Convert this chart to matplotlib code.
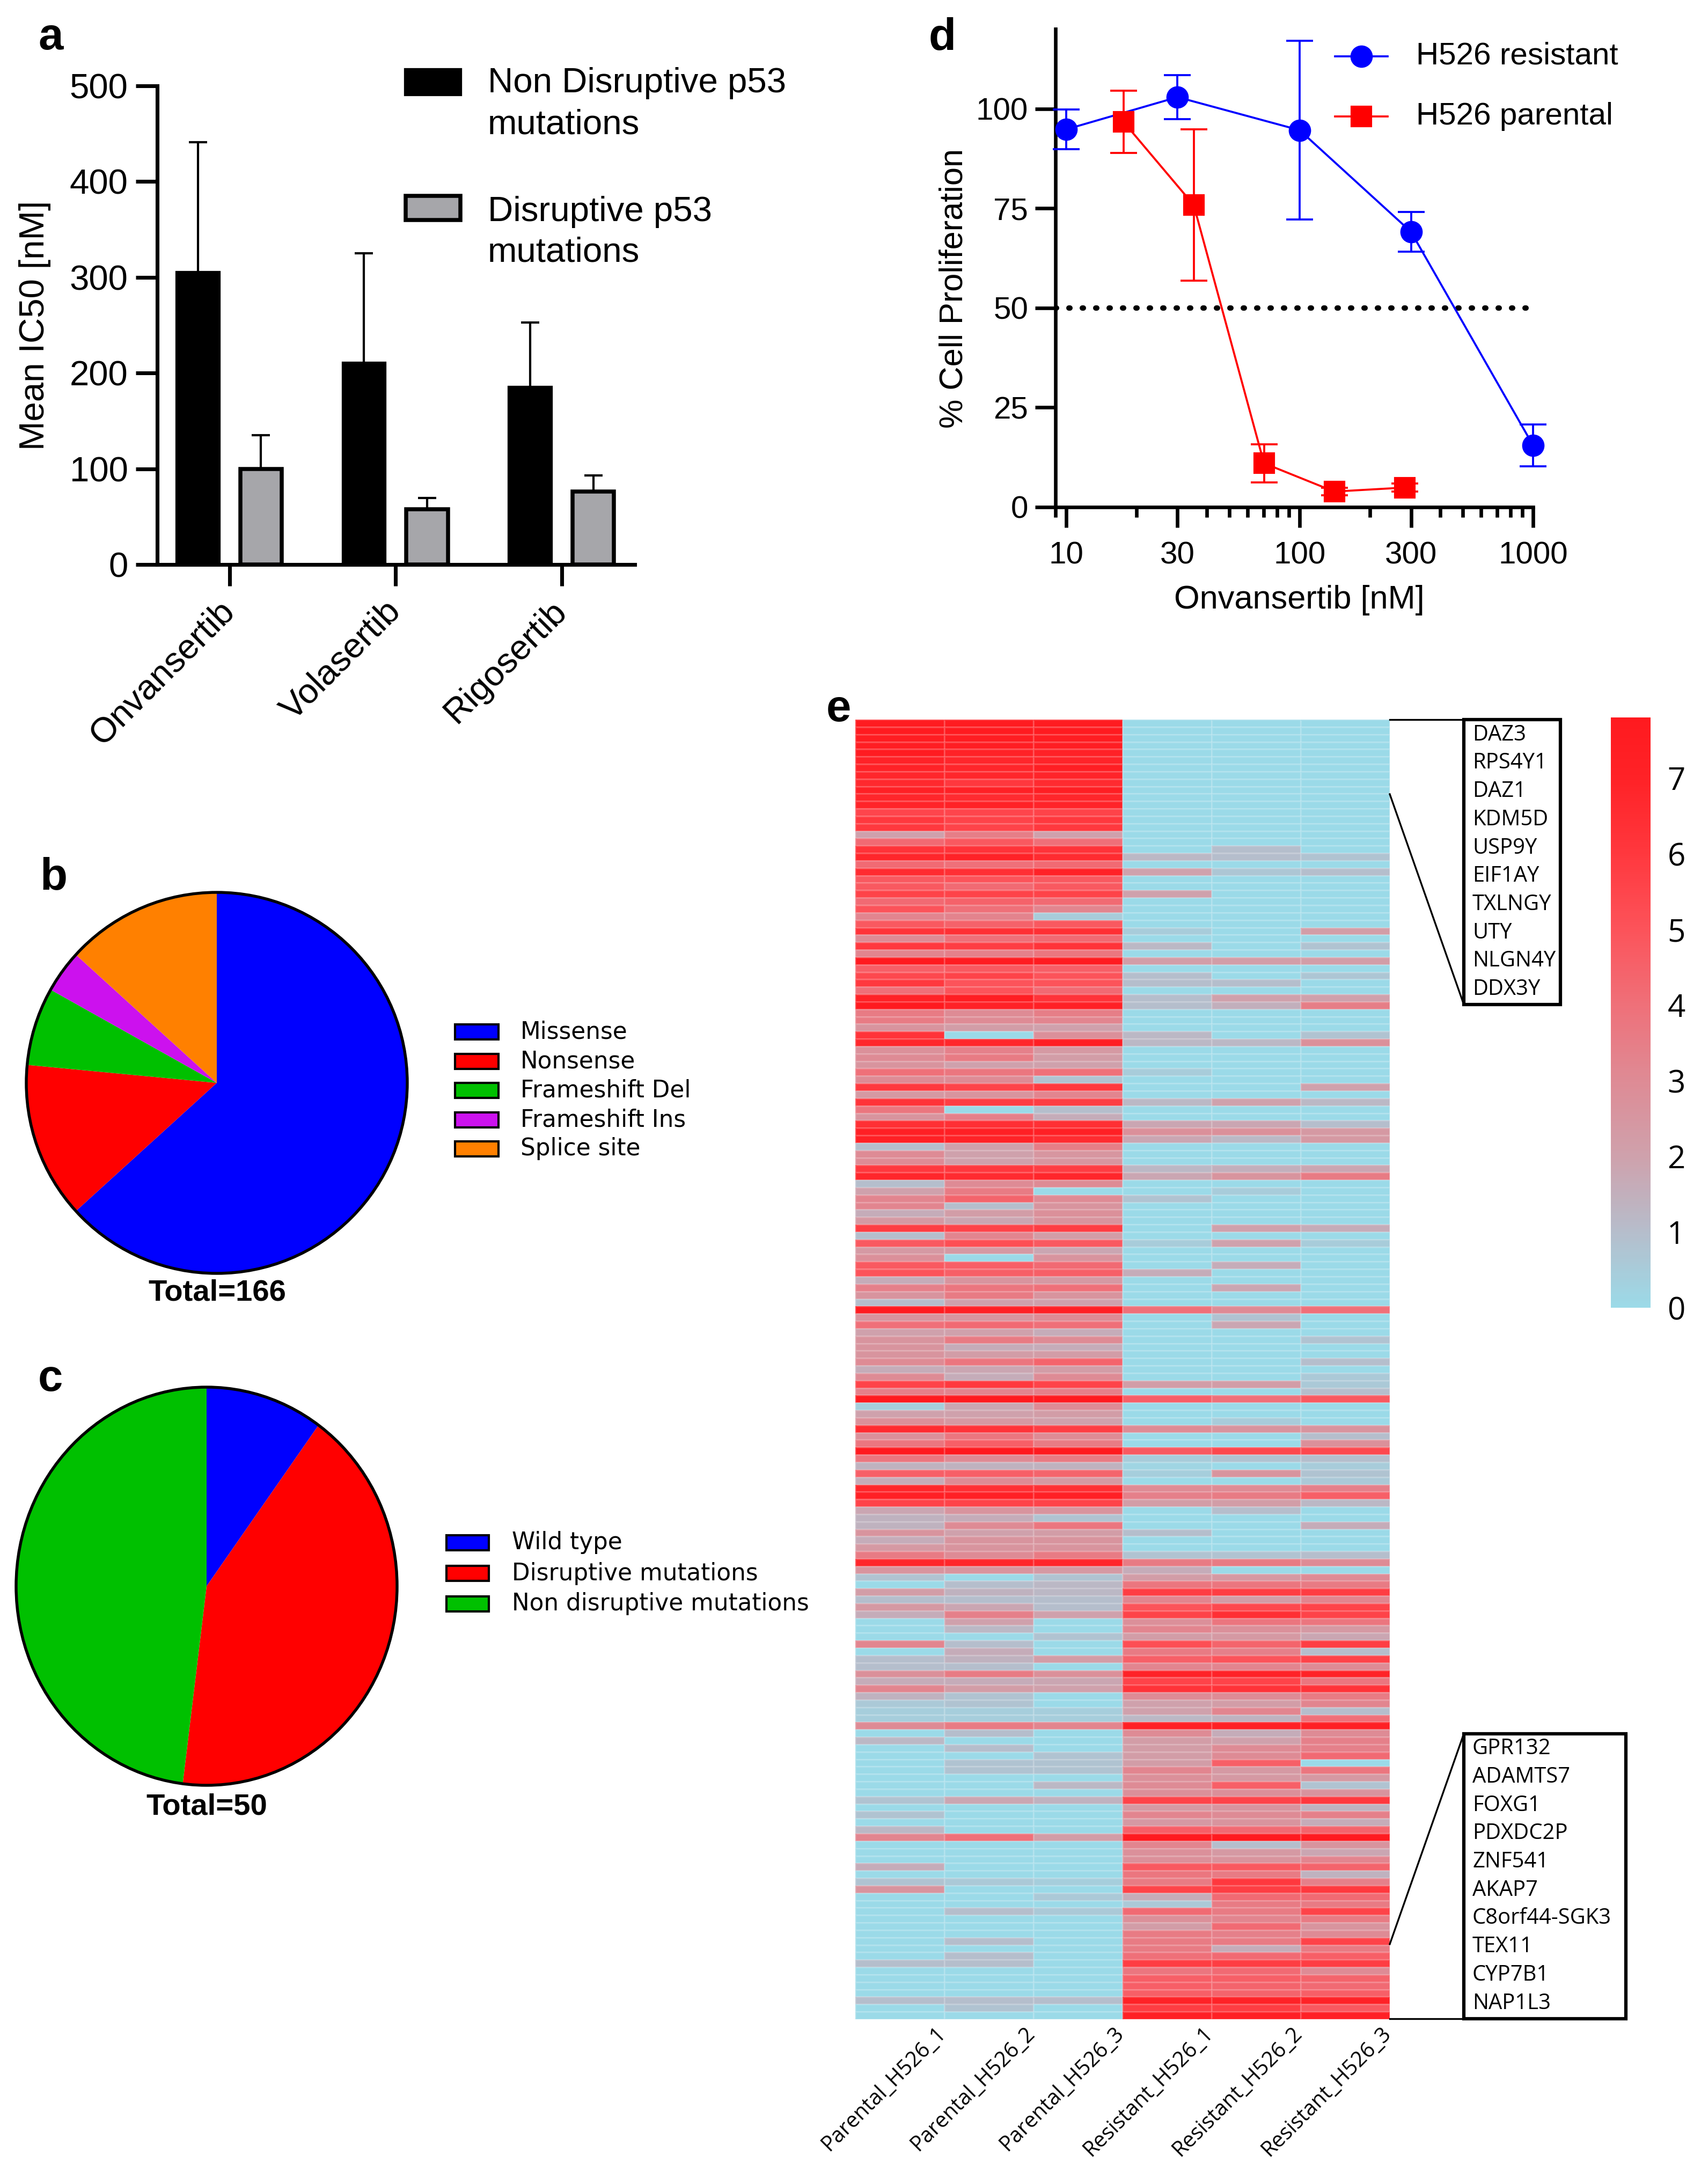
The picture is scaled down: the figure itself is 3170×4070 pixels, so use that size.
import numpy as np
import matplotlib
matplotlib.use("Agg")
import matplotlib.pyplot as plt
from matplotlib.colors import LinearSegmentedColormap
from matplotlib.patches import Rectangle, Circle
from matplotlib.lines import Line2D
from matplotlib.ticker import NullFormatter

plt.rcParams['font.family'] = ['Liberation Sans', 'DejaVu Sans']

# ---- panel a: mean IC50 by drug
drugs = ["Onvansertib", "Volasertib", "Rigosertib"]
ic50_nondisruptive = [305, 210, 185]
sd_nondisruptive = [136, 115, 68]
ic50_disruptive = [100, 58, 76]
sd_disruptive = [35, 11.5, 17]

# ---- panel b: TP53 mutation types
mutation_types = ["Missense", "Nonsense", "Frameshift Del", "Frameshift Ins", "Splice site"]
mutation_counts = [105, 22, 11, 6, 22]
mutation_colors = ["#0000FF", "#FF0000", "#00C000", "#CC11EE", "#FF8000"]

# ---- panel c: p53 status of cell lines
status_types = ["Wild type", "Disruptive mutations", "Non disruptive mutations"]
status_counts = [5, 21, 24]
status_colors = ["#0000FF", "#FF0000", "#00C000"]

# ---- panel d: dose response
conc_resistant = [10, 30, 100, 300, 1000]
prolif_resistant = [94.8, 102.9, 94.6, 69.1, 15.5]
err_resistant = [5.0, 5.5, 22.4, 5.0, 5.2]
conc_parental = [17.6, 35.2, 70.4, 140.8, 281.6]
prolif_parental = [96.7, 75.8, 11.0, 3.9, 4.9]
err_parental = [7.8, 19.0, 4.8, 1.0, 1.0]

# ---- panel e: heatmap (rows top to bottom)
samples = ["Parental_H526_1", "Parental_H526_2", "Parental_H526_3",
           "Resistant_H526_1", "Resistant_H526_2", "Resistant_H526_3"]
parental_1 = [7.7, 7.7, 7.5, 7.4, 7.6, 7.0, 7.0, 6.8, 6.7, 7.2,
              6.8, 6.9, 5.5, 6.0, 6.0, 2.0, 4.2, 6.2, 6.8, 4.2,
              6.6, 4.8, 4.8, 5.6, 4.2, 5.0, 3.2, 4.8, 6.2, 3.0,
              6.0, 3.2, 7.8, 4.6, 5.4, 6.0, 4.0, 7.0, 7.8, 3.6,
              3.6, 2.6, 6.2, 6.8, 2.8, 3.0, 2.6, 4.0, 3.0, 6.0,
              2.4, 6.2, 3.8, 2.6, 6.4, 7.2, 7.2, 1.0, 3.0, 3.0,
              6.0, 6.8, 1.0, 2.0, 3.2, 3.2, 1.6, 2.4, 5.8, 1.0,
              4.8, 2.4, 2.8, 4.8, 5.0, 1.6, 3.4, 2.6, 1.0, 7.6,
              2.6, 4.0, 2.0, 2.6, 2.6, 2.6, 3.0, 1.6, 3.0, 5.6,
              3.4, 7.8, 0.4, 2.0, 2.8, 6.6, 2.8, 3.8, 7.8, 3.8,
              1.4, 4.6, 1.6, 6.8, 7.2, 5.6, 1.8, 1.4, 1.4, 2.6,
              1.6, 2.4, 3.6, 6.8, 2.6, 0.8, 0.0, 2.2, 1.0, 2.4,
              1.6, 0.0, 0.0, 0.0, 3.2, 0.0, 1.0, 1.0, 2.8, 1.6,
              3.2, 1.4, 0.6, 0.4, 0.4, 3.0, 0.0, 1.2, 0.0, 0.0,
              0.0, 0.0, 0.0, 0.0, 0.0, 0.8, 0.0, 0.8, 0.0, 1.2,
              3.2, 0.0, 0.0, 0.0, 1.6, 0.0, 0.8, 2.6, 0.0, 0.0,
              0.0, 0.0, 0.0, 0.0, 0.0, 0.0, 0.0, 1.0, 0.0, 0.0,
              0.0, 0.0, 1.0, 0.0, 0.0]
parental_2 = [7.7, 7.7, 7.5, 7.4, 7.0, 6.8, 6.8, 6.8, 6.0, 7.2,
              6.6, 7.0, 5.5, 5.6, 5.6, 3.5, 4.8, 6.2, 7.0, 4.0,
              6.4, 5.0, 4.2, 5.6, 4.5, 4.0, 3.3, 4.5, 6.4, 4.0,
              5.8, 3.4, 7.6, 4.8, 5.6, 5.0, 5.0, 7.5, 7.0, 3.0,
              3.0, 2.2, 0.0, 6.8, 3.4, 3.6, 2.0, 3.8, 3.0, 5.6,
              2.6, 5.8, 0.0, 3.4, 6.4, 7.2, 7.0, 2.0, 2.0, 2.0,
              6.0, 6.6, 3.0, 3.6, 4.4, 1.0, 2.2, 1.8, 5.6, 3.2,
              5.2, 2.4, 0.0, 4.6, 4.6, 2.6, 3.8, 3.6, 2.0, 7.2,
              2.6, 4.2, 2.0, 3.6, 1.6, 2.2, 3.8, 1.8, 1.6, 6.0,
              3.2, 7.8, 1.8, 2.0, 2.4, 6.2, 3.8, 4.6, 7.8, 3.0,
              1.4, 4.6, 3.0, 6.4, 7.2, 5.6, 2.6, 1.6, 3.0, 2.0,
              2.6, 2.6, 3.0, 6.8, 2.6, 0.0, 1.0, 1.4, 1.0, 1.8,
              3.4, 2.0, 1.2, 0.0, 1.0, 1.6, 1.4, 1.0, 3.6, 1.6,
              2.2, 0.8, 0.8, 0.4, 0.4, 3.6, 1.0, 0.0, 1.0, 0.0,
              0.8, 0.8, 0.0, 0.0, 0.0, 1.8, 0.0, 0.0, 0.0, 0.0,
              4.0, 0.0, 0.0, 0.0, 0.0, 0.0, 0.6, 0.0, 0.0, 0.0,
              1.0, 0.0, 0.0, 0.0, 1.0, 0.0, 1.0, 1.0, 0.0, 0.0,
              0.0, 0.0, 1.0, 0.8, 0.0]
parental_3 = [7.7, 7.7, 7.5, 7.4, 7.0, 6.9, 7.3, 6.9, 6.6, 7.4,
              6.8, 6.9, 5.6, 6.0, 6.0, 2.0, 4.0, 6.2, 6.6, 4.2,
              7.0, 4.8, 4.8, 5.6, 4.2, 3.2, 0.5, 4.8, 6.4, 4.2,
              6.2, 3.8, 7.7, 4.6, 5.0, 5.0, 4.2, 6.2, 7.2, 3.5,
              3.2, 2.0, 2.8, 7.4, 2.4, 2.2, 2.0, 4.0, 0.8, 6.0,
              3.2, 5.8, 1.0, 1.6, 6.4, 7.2, 6.6, 3.5, 2.5, 2.5,
              5.8, 6.8, 3.0, 0.0, 3.0, 2.6, 2.8, 2.6, 5.8, 2.2,
              4.8, 1.8, 2.6, 4.2, 4.6, 2.4, 4.0, 2.6, 2.0, 7.2,
              3.0, 4.0, 1.6, 3.0, 1.6, 2.2, 4.4, 2.2, 3.0, 5.6,
              3.4, 7.8, 3.0, 2.2, 2.0, 5.8, 3.0, 3.6, 7.8, 3.6,
              1.4, 4.4, 2.4, 6.4, 7.2, 5.6, 2.6, 0.8, 3.8, 2.2,
              2.6, 2.6, 3.6, 6.8, 2.4, 0.8, 1.2, 1.2, 1.0, 1.0,
              2.0, 0.0, 0.0, 0.8, 0.0, 0.0, 2.2, 0.0, 2.8, 1.8,
              2.0, 0.0, 0.0, 0.4, 0.4, 3.2, 0.0, 0.0, 0.0, 0.8,
              0.8, 0.8, 0.0, 1.2, 0.0, 1.4, 0.0, 0.0, 0.0, 0.0,
              2.2, 0.0, 0.0, 0.0, 0.0, 0.0, 0.4, 0.0, 0.6, 0.0,
              0.6, 0.0, 0.0, 0.0, 0.0, 0.0, 0.0, 0.0, 0.0, 0.0,
              0.0, 0.0, 1.0, 0.0, 0.0]
resistant_1 = [0.0, 0.0, 0.0, 0.0, 0.0, 0.0, 0.0, 0.0, 0.0, 0.0,
               0.0, 0.0, 0.0, 0.0, 0.0, 0.0, 0.0, 0.0, 1.2, 0.0,
               2.0, 0.0, 0.0, 2.0, 0.0, 0.0, 0.0, 0.0, 0.5, 0.0,
               1.2, 0.0, 2.2, 0.0, 1.0, 1.0, 0.0, 1.0, 1.0, 0.0,
               0.0, 0.0, 1.2, 1.2, 0.0, 0.0, 0.0, 0.5, 0.0, 0.0,
               0.0, 1.2, 0.0, 0.0, 1.8, 2.8, 1.8, 0.0, 0.0, 0.0,
               1.2, 1.8, 0.0, 0.0, 0.8, 0.0, 0.0, 0.0, 0.0, 0.0,
               0.5, 0.0, 0.0, 0.0, 1.6, 0.0, 0.0, 0.0, 0.0, 4.0,
               0.0, 0.0, 0.0, 0.0, 0.0, 0.0, 0.0, 0.0, 0.0, 2.2,
               0.0, 4.6, 0.0, 0.0, 0.0, 3.0, 0.0, 0.0, 4.8, 0.5,
               0.2, 0.4, 0.0, 3.0, 3.4, 2.2, 0.0, 0.0, 0.0, 1.0,
               0.0, 0.0, 0.8, 3.6, 1.6, 2.2, 3.8, 5.8, 3.2, 5.0,
               5.6, 2.8, 3.2, 2.2, 5.2, 3.6, 4.6, 3.2, 7.0, 5.6,
               6.2, 3.0, 2.0, 2.0, 1.2, 7.2, 3.0, 2.2, 2.2, 2.2,
               2.2, 3.2, 2.8, 3.0, 2.8, 5.6, 2.4, 3.2, 2.4, 4.6,
               7.8, 3.2, 2.8, 2.8, 4.8, 3.8, 3.6, 5.6, 1.6, 0.6,
               4.2, 2.8, 2.2, 3.6, 3.6, 3.6, 4.0, 5.8, 3.8, 4.6,
               4.6, 4.6, 7.0, 5.8, 7.2]
resistant_2 = [0.0, 0.0, 0.0, 0.0, 0.0, 0.0, 0.0, 0.0, 0.0, 0.0,
               0.0, 0.0, 0.0, 0.0, 0.0, 0.0, 0.0, 1.0, 1.0, 0.0,
               0.7, 0.0, 0.0, 0.0, 0.0, 0.0, 0.0, 0.0, 0.0, 0.0,
               0.0, 0.0, 2.2, 0.0, 0.0, 1.0, 0.0, 2.0, 1.5, 0.0,
               0.0, 0.0, 0.0, 1.2, 0.0, 0.0, 0.0, 0.0, 0.0, 0.0,
               0.0, 2.0, 0.0, 0.0, 1.8, 2.8, 1.2, 0.0, 0.0, 0.0,
               1.5, 2.6, 0.0, 0.5, 0.0, 0.0, 0.0, 0.0, 2.0, 0.0,
               2.0, 0.0, 0.0, 1.6, 0.0, 0.0, 1.8, 0.0, 0.0, 3.0,
               0.8, 1.8, 0.0, 0.0, 0.0, 0.0, 0.0, 0.0, 0.0, 2.2,
               0.0, 4.0, 0.0, 0.0, 0.5, 2.6, 0.0, 0.0, 5.4, 0.8,
               0.0, 2.6, 0.0, 3.0, 3.6, 2.2, 1.0, 0.0, 0.0, 0.0,
               0.0, 0.0, 0.8, 3.6, 0.0, 2.4, 3.8, 5.8, 2.2, 5.4,
               6.4, 3.8, 2.8, 2.4, 4.4, 3.4, 5.0, 3.2, 7.0, 5.6,
               6.2, 3.0, 2.2, 3.2, 1.4, 7.2, 1.6, 2.0, 3.0, 3.0,
               4.6, 2.4, 2.4, 4.6, 2.8, 5.6, 2.6, 3.0, 2.6, 4.2,
               7.8, 1.0, 2.4, 2.6, 4.8, 3.6, 6.0, 5.8, 4.2, 3.6,
               3.6, 3.2, 4.2, 3.4, 3.6, 1.6, 4.2, 5.8, 4.2, 4.6,
               4.4, 4.4, 7.0, 5.8, 7.2]
resistant_3 = [0.0, 0.0, 0.0, 0.0, 0.0, 0.0, 0.0, 0.0, 0.0, 0.0,
               0.0, 0.0, 0.0, 0.0, 0.0, 0.0, 0.0, 0.0, 0.8, 0.0,
               1.0, 0.0, 0.0, 0.0, 0.0, 0.0, 0.0, 0.0, 2.2, 0.0,
               0.8, 0.0, 2.2, 0.0, 0.7, 0.0, 0.0, 2.0, 3.5, 0.0,
               0.0, 0.0, 0.8, 2.8, 0.0, 0.0, 0.0, 0.0, 0.0, 2.0,
               0.0, 1.2, 0.0, 0.0, 1.0, 2.4, 2.4, 0.0, 0.0, 0.0,
               1.8, 3.6, 0.0, 0.0, 0.0, 0.0, 0.0, 0.0, 1.6, 0.0,
               0.5, 0.0, 0.0, 0.0, 0.0, 0.0, 0.0, 0.0, 0.0, 4.0,
               0.0, 0.0, 0.0, 0.8, 0.0, 0.0, 1.0, 0.0, 0.6, 0.6,
               1.0, 4.8, 0.0, 0.0, 0.0, 2.6, 1.0, 2.8, 5.4, 1.0,
               0.5, 0.8, 0.6, 3.4, 4.6, 1.2, 0.0, 0.0, 1.6, 0.0,
               0.0, 0.0, 1.0, 3.0, 0.0, 3.0, 3.6, 5.8, 3.2, 5.6,
               5.6, 3.8, 2.4, 1.8, 5.8, 1.0, 5.6, 3.0, 7.0, 3.8,
               6.2, 3.6, 3.2, 1.0, 4.0, 7.2, 3.0, 3.4, 3.4, 4.2,
               0.0, 3.8, 2.4, 0.8, 2.6, 6.0, 1.4, 3.4, 1.6, 4.4,
               7.8, 2.6, 1.8, 3.2, 4.4, 1.4, 3.4, 6.0, 4.2, 3.6,
               5.6, 3.6, 2.6, 3.0, 5.6, 3.6, 4.6, 5.8, 3.0, 4.4,
               4.2, 4.6, 7.0, 4.8, 7.2]
top_genes = ["DAZ3", "RPS4Y1", "DAZ1", "KDM5D", "USP9Y", "EIF1AY", "TXLNGY", "UTY", "NLGN4Y", "DDX3Y"]
bottom_genes = ["GPR132", "ADAMTS7", "FOXG1", "PDXDC2P", "ZNF541", "AKAP7", "C8orf44-SGK3",
                "TEX11", "CYP7B1", "NAP1L3"]

# colour ramp of the heatmap (value -> colour)
ramp_values = [0, 1, 2, 3, 4, 5, 6, 7, 7.8]
ramp_colors = ["#9BDAE8", "#B6BDCB", "#CFA1AC", "#DE8B95", "#EF7079", "#FC535A",
               "#FF383E", "#FF2227", "#FF1A1F"]

W, H = 3170, 4070
fig = plt.figure(figsize=(W / 300, H / 300), dpi=300)


def box(l, t, r, b):
    # pixel box (left, top, right, bottom) -> figure fraction
    return [l / W, 1 - b / H, (r - l) / W, (b - t) / H]


def fx(x):
    return x / W


def fy(y):
    return 1 - y / H


def fig_rect(l, t, r, b, **kw):
    fig.add_artist(Rectangle((fx(l), fy(b)), (r - l) / W, (b - t) / H,
                             transform=fig.transFigure, **kw))


def fig_line(xs, ys, **kw):
    fig.add_artist(Line2D([fx(x) for x in xs], [fy(y) for y in ys],
                          transform=fig.transFigure, **kw))


# panel letters
for lab, x, y in [("a", 71, 92), ("b", 74, 1657), ("c", 71, 2592), ("d", 1731, 92), ("e", 1540, 1344)]:
    fig.text(fx(x), fy(y), lab, fontsize=20, fontweight='bold', ha='left', va='baseline')

# ================= a
FA = 15.7
axa = fig.add_axes(box(293, 160, 1183, 1052))
xa = np.arange(len(drugs))
axa.errorbar(xa - 0.19, ic50_nondisruptive, yerr=[np.zeros(3), sd_nondisruptive], fmt='none',
             ecolor='black', elinewidth=1.0, capsize=4, capthick=1.0, zorder=1)
axa.errorbar(xa + 0.19, ic50_disruptive, yerr=[np.zeros(3), sd_disruptive], fmt='none',
             ecolor='black', elinewidth=1.0, capsize=4, capthick=1.0, zorder=1)
axa.bar(xa - 0.19, ic50_nondisruptive, 0.25, color='black', edgecolor='black', linewidth=1.5, zorder=2)
axa.bar(xa + 0.19, ic50_disruptive, 0.25, color='#A6A6AA', edgecolor='black', linewidth=1.8, zorder=2)
axa.set_xlim(-0.435, 2.44)
axa.set_ylim(0, 500)
axa.set_yticks(range(0, 501, 100))
axa.set_xticks(xa)
axa.set_xticklabels(drugs, rotation=45, ha='right', va='center', rotation_mode='anchor')
for s in ['top', 'right']:
    axa.spines[s].set_visible(False)
for s in ['left', 'bottom']:
    axa.spines[s].set_linewidth(1.7)
axa.tick_params(axis='both', length=9.6, width=1.7, labelsize=FA)
axa.tick_params(axis='y', pad=3.5)
axa.tick_params(axis='x', pad=9)
axa.set_ylabel("Mean IC50 [nM]", fontsize=FA)
axa.yaxis.set_label_coords(-0.222, 0.5)

fig_rect(756, 130, 858, 176, facecolor='black', edgecolor='black', linewidth=1.5)
fig_rect(756, 365, 858, 410, facecolor='#A6A6AA', edgecolor='black', linewidth=1.8)
fig.text(fx(909), fy(155), "Non Disruptive p53", fontsize=FA, va='center')
fig.text(fx(909), fy(233), "mutations", fontsize=FA, va='center')
fig.text(fx(909), fy(395), "Disruptive p53", fontsize=FA, va='center')
fig.text(fx(909), fy(471), "mutations", fontsize=FA, va='center')

# ================= d
axd = fig.add_axes(box(1967, 54, 2857, 945))
axd.set_xscale('log')
axd.plot([9, 1000], [50, 50], color='black', lw=2.4, linestyle=(0, (0.2, 2.3)),
         dash_capstyle='round', zorder=1)
axd.errorbar(conc_resistant, prolif_resistant, yerr=err_resistant, color='#0000FF', marker='o',
             ms=9, lw=0.9, elinewidth=0.9, capsize=6, capthick=0.9, clip_on=False, zorder=3)
axd.errorbar(conc_parental, prolif_parental, yerr=err_parental, color='#FF0000', marker='s',
             ms=8.5, lw=0.9, elinewidth=0.9, capsize=6, capthick=0.9, clip_on=False, zorder=3)
axd.set_xlim(9, 1000)
axd.set_ylim(0, 120)
axd.set_xticks([10, 30, 100, 300, 1000])
axd.set_xticklabels(["10", "30", "100", "300", "1000"])
axd.set_xticks([9, 20, 40, 50, 60, 70, 80, 90, 200, 400, 500, 600, 700, 800, 900], minor=True)
axd.xaxis.set_minor_formatter(NullFormatter())
axd.set_yticks([0, 25, 50, 75, 100])
for s in ['top', 'right']:
    axd.spines[s].set_visible(False)
for s in ['left', 'bottom']:
    axd.spines[s].set_linewidth(1.6)
axd.tick_params(which='major', length=9.2, width=1.6, labelsize=14)
axd.tick_params(which='minor', length=4.6, width=1.6)
axd.tick_params(axis='x', which='major', pad=6)
axd.tick_params(axis='y', pad=3)
axd.set_xlabel("Onvansertib [nM]", fontsize=14.7)
axd.set_ylabel("% Cell Proliferation", fontsize=14.7)
axd.xaxis.set_label_coords(0.51, -0.163)
axd.yaxis.set_label_coords(-0.180, 0.457)

fig_line([2488, 2586], [105, 105], color='#0000FF', lw=0.9)
fig_line([2537], [105], color='#0000FF', marker='o', ms=9, ls='none')
fig.text(fx(2639), fy(105), "H526 resistant", fontsize=14, va='center')
fig_line([2488, 2586], [217, 217], color='#FF0000', lw=0.9)
fig_line([2537], [217], color='#FF0000', marker='s', ms=8.5, ls='none')
fig.text(fx(2639), fy(217), "H526 parental", fontsize=14, va='center')

# ================= b
axb = fig.add_axes(box(49, 1663, 759, 2373))
axb.pie(mutation_counts, colors=mutation_colors, startangle=90, counterclock=False,
        wedgeprops=dict(linewidth=0))
axb.add_patch(Circle((0, 0), 1, fill=False, edgecolor='black', linewidth=1.3, clip_on=False))
axb.set_xlim(-1, 1)
axb.set_ylim(-1, 1)
axb.set_aspect('auto')
axb.axis('off')
fig.text(fx(405), fy(2409), "Total=166", fontsize=13.5, fontweight='bold', ha='center', va='center')
for i, (name, col) in enumerate(zip(mutation_types, mutation_colors)):
    yc = [1923, 1978, 2032, 2087, 2141][i]
    fig_rect(848, yc - 14, 929, yc + 14, facecolor=col, edgecolor='black', linewidth=1.0)
    fig.text(fx(970), fy(yc), name, fontsize=10.5, va='center', family='DejaVu Sans')

# ================= c
axc = fig.add_axes(box(30, 2585, 740, 3327))
axc.pie(status_counts, colors=status_colors, startangle=90, counterclock=False,
        wedgeprops=dict(linewidth=0))
axc.add_patch(Circle((0, 0), 1, fill=False, edgecolor='black', linewidth=1.3, clip_on=False))
axc.set_xlim(-1, 1)
axc.set_ylim(-1, 1)
axc.set_aspect('auto')
axc.axis('off')
fig.text(fx(385), fy(3367), "Total=50", fontsize=13.5, fontweight='bold', ha='center', va='center')
for i, (name, col) in enumerate(zip(status_types, status_colors)):
    yc = [2875, 2932, 2989][i]
    fig_rect(832, yc - 14, 911, yc + 14, facecolor=col, edgecolor='black', linewidth=1.0)
    fig.text(fx(954), fy(yc), name, fontsize=10.5, va='center', family='DejaVu Sans')

# ================= e
mat = np.column_stack([parental_1, parental_2, parental_3, resistant_1, resistant_2, resistant_3])
nrow = mat.shape[0]
cmap = LinearSegmentedColormap.from_list(
    "expr", list(zip(np.array(ramp_values) / ramp_values[-1], ramp_colors)))
axh = fig.add_axes(box(1594, 1341, 2590, 3763))
mesh = axh.pcolormesh(mat, cmap=cmap, vmin=0, vmax=ramp_values[-1],
                      edgecolors=(1, 1, 1, 0.18), linewidth=0.3)
axh.set_xlim(0, 6)
axh.set_ylim(nrow, 0)
for s in axh.spines.values():
    s.set_visible(False)
axh.set_yticks([])
axh.set_xticks(np.arange(6) + 0.98)
axh.set_xticklabels(samples, rotation=45, ha='right', va='center', rotation_mode='anchor',
                    family='Open Sans', fontsize=9.5)
axh.tick_params(axis='x', length=0, pad=5)

cax = fig.add_axes(box(3002, 1337, 3076, 2437))
cb = fig.colorbar(mesh, cax=cax, ticks=range(8))
cb.outline.set_visible(False)
cax.tick_params(length=0, pad=7.5, labelsize=14)
for t in cax.get_yticklabels():
    t.set_family('Open Sans')

# gene call-out boxes
GF = 9.6
fig_rect(2728, 1341, 2908, 1872, fill=False, edgecolor='black', linewidth=1.5)
fig_line([2590, 2728], [1341, 1341], color='black', lw=0.8)
fig_line([2590, 2728], [1480, 1872], color='black', lw=0.8)
for k, g in enumerate(top_genes):
    fig.text(fx(2744), fy(1369.5 + 52.7 * k), g, fontsize=GF, va='center', family='Open Sans')

fig_rect(2728, 3231, 3030, 3762, fill=False, edgecolor='black', linewidth=1.5)
fig_line([2590, 2728], [3623, 3231], color='black', lw=0.8)
fig_line([2590, 2728], [3762, 3762], color='black', lw=0.8)
for k, g in enumerate(bottom_genes):
    fig.text(fx(2744), fy(3259 + 52.7 * k), g, fontsize=GF, va='center', family='Open Sans')

fig.savefig("out.png", dpi=300, facecolor='white')
